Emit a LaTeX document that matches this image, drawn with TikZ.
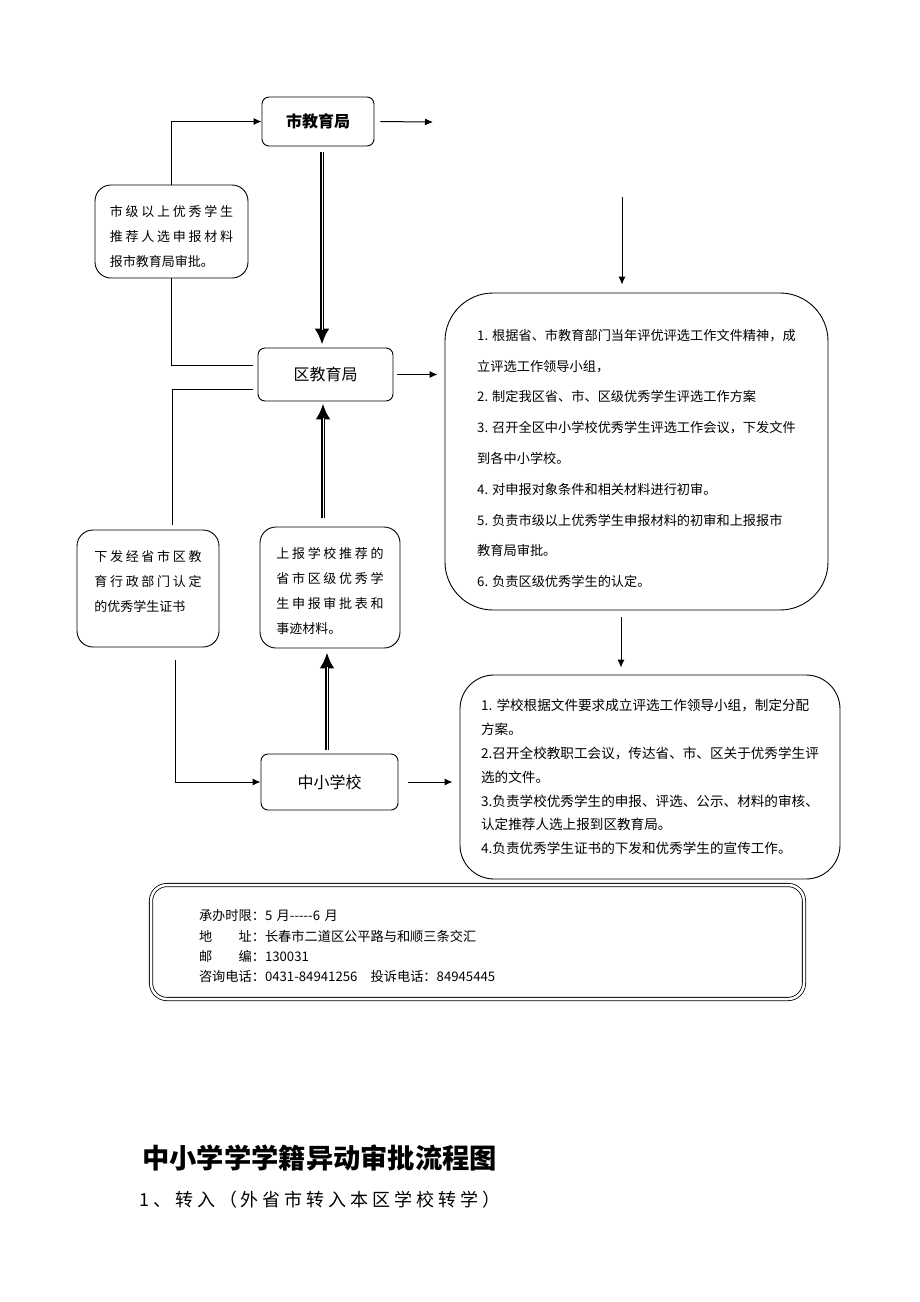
\documentclass[tikz,border=0pt]{standalone}
\usepackage{fontspec}
\setmainfont{Noto Sans CJK SC}
\newfontfamily\spreadcjk[LetterSpace=21]{Noto Sans CJK SC}
\newfontfamily\widecjk[LetterSpace=22]{Noto Sans CJK SC}
\usetikzlibrary{arrows.meta,positioning,calc}
\tikzset{
  box/.style={draw,line width=0.9pt,rounded corners=7pt,inner sep=0pt},
  notebox/.style={box,rounded corners=16pt,align=left,font=\fontsize{13}{25}\selectfont},
  arr/.style={line width=1pt,-{Latex[length=8pt,width=7pt]}},
  plain/.style={line width=1pt},
  dblarrow/.style={line width=4.5pt,-{Latex[length=16pt,width=15pt]},
    postaction={draw=white,line width=0.9pt,-,shorten >=15pt}}
}
\newcommand\upstrut[1]{\rule{0pt}{#1}}
\newcommand\downstrut[1]{\rule[-#1]{0pt}{0pt}}
\begin{document}
\begin{tikzpicture}[x=1pt,y=-1pt]
\useasboundingbox (0,0) rectangle (920,1302);
% offices
\node[box,minimum width=112,minimum height=49,font=\fontsize{16}{18}\selectfont\bfseries] (city) at (318,121.5) {市教育局};
\node[box,minimum width=135,minimum height=53,font=\fontsize{16}{18}\selectfont] (dist) at (325.5,374.5) {区教育局};
\node[box,minimum width=137,minimum height=56,font=\fontsize{16}{18}\selectfont] (school) at (329.5,782) {中小学校};
% small notes
\node[notebox,minimum width=153,minimum height=93] (recbox) at (171.5,231.5)
  {\upstrut{21pt}{\spreadcjk 市级以上优秀学生}\\{\spreadcjk 推荐人选申报材料}\\报市教育局审批。};
\node[notebox,minimum width=142,minimum height=117] (certbox) at (148,588.5)
  {{\spreadcjk 下发经省市区教}\\{\spreadcjk 育行政部门认定}\\的优秀学生证书\downstrut{15pt}};
\node[notebox,minimum width=140,minimum height=121] (upbox) at (330,587.5)
  {\upstrut{19pt}{\spreadcjk 上报学校推荐的}\\{\spreadcjk 省市区级优秀学}\\{\spreadcjk 生申报审批表和}\\事迹材料。};
% task lists
\node[box,rounded corners=48pt,minimum width=383,minimum height=317,align=left,
  font=\fontsize{13.2}{30.8}\selectfont] (tasks) at (636.5,451.5)
  {\upstrut{25pt}1. 根据省、市教育部门当年评优评选工作文件精神，成\\
   立评选工作领导小组，\\
   2. 制定我区省、市、区级优秀学生评选工作方案\\
   3. 召开全区中小学校优秀学生评选工作会议，下发文件\\
   到各中小学校。\\
   4. 对申报对象条件和相关材料进行初审。\\
   5. 负责市级以上优秀学生申报材料的初审和上报报市\\
   教育局审批。\\
   6. 负责区级优秀学生的认定。};
\node[box,rounded corners=34pt,minimum width=380,minimum height=204,align=left,
  font=\fontsize{13.6}{23.8}\selectfont] (schtasks) at (650,777)
  {1. 学校根据文件要求成立评选工作领导小组，制定分配\\
   方案。\\
   2.召开全校教职工会议，传达省、市、区关于优秀学生评\\
   选的文件。\\
   3.负责学校优秀学生的申报、评选、公示、材料的审核、\\
   认定推荐人选上报到区教育局。\\
   4.负责优秀学生证书的下发和优秀学生的宣传工作。};
% contact
\node[draw,line width=0.8pt,double,double distance=2.5pt,rounded corners=16pt,
  minimum height=114,inner xsep=48pt,inner ysep=0pt,text width=557pt,align=left,
  font=\fontsize{13.2}{20.3}\selectfont] (contact) at (477.5,942)
  {\upstrut{19.5pt}承办时限：5 月-{}-{}-{}-{}-6 月\\
   地　　址：长春市二道区公平路与和顺三条交汇\\
   邮　　编：130031\\
   咨询电话：0431-84941256\hspace{1em}投诉电话：84945445};
% headings
\node[anchor=west,inner sep=0pt,font=\fontsize{27.3}{30}\selectfont\bfseries] (title) at (142,1158) {中小学学学籍异动审批流程图};
\node[anchor=west,inner sep=0pt,font=\fontsize{18}{22}\selectfont\widecjk] (sub) at (139,1200) {1、转入（外省市转入本区学校转学）};
% connectors
\coordinate (cityout) at (433,122);
\coordinate (topin) at (622,197);
\draw[arr] (recbox.north) |- (city.west);
\draw[arr,shorten <=6pt] (city.east) -- (cityout);
\draw[dblarrow] ([xshift=4pt,yshift=-6pt]city.south) -- ([xshift=-3.5pt,yshift=3pt]dist.north);
\draw[arr,shorten <=4pt,shorten >=7pt] (dist.east) -- (dist.east -| tasks.west);
\draw[arr,shorten >=8pt] (topin) -- (topin |- tasks.north);
\draw[arr,shorten <=7pt,shorten >=7pt] ([xshift=-15.5pt]tasks.south) -- ([xshift=-29pt]schtasks.north);
\draw[plain] (recbox.south) |- ([xshift=-5pt,yshift=9.5pt]dist.west);
\draw[plain] ([xshift=-5pt,yshift=-14.5pt]dist.west) -| ([xshift=24pt,yshift=5pt]certbox.north);
\draw[dblarrow] ([xshift=-7pt,yshift=9pt]upbox.north) -- ([xshift=-2.5pt,yshift=-2pt]dist.south);
\draw[dblarrow] ([xshift=-2.5pt,yshift=4pt]school.north) -- ([xshift=-3pt,yshift=-4pt]upbox.south);
\draw[arr] ([xshift=27pt,yshift=-13pt]certbox.south) |- (school.west);
\draw[arr,shorten <=10pt,shorten >=7pt] (school.east) -- (school.east -| schtasks.west);
\end{tikzpicture}
\end{document}
